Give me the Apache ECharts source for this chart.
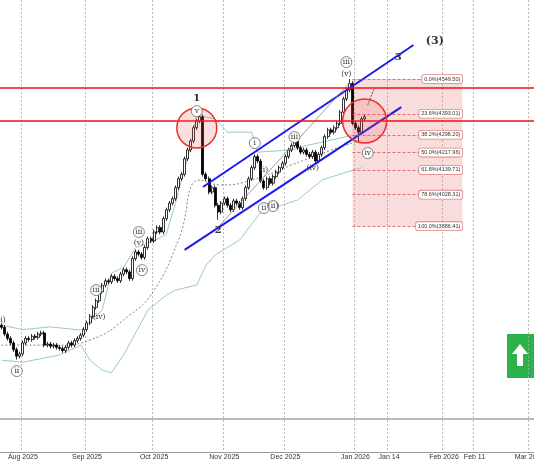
<!DOCTYPE html>
<html>
<head>
<meta charset="UTF-8">
<script src="https://cdn.jsdelivr.net/npm/echarts@6/dist/echarts.min.js"></script>
<style>html,body{margin:0;background:#fff;overflow:hidden}#main{width:534px;height:462px}</style>
</head>
<body>
<div id="main"></div>
<script>
// closes of each daily bar, starting Jul 23 2025
var closes = [3430,3400,3380,3360,3330,3300,3310,3360,3380,3375,3390,3385,3400,3405,3350,3355,3345,3350,3340,3335,
  3325,3340,3360,3350,3370,3380,3395,3420,3450,3480,3520,3550,3590,3620,3640,3635,3660,3650,3640,3670,
  3690,3680,3650,3740,3770,3760,3745,3790,3830,3820,3860,3880,3860,3920,3960,3990,4010,4060,4100,4120,
  4190,4230,4270,4330,4360,4380,4120,4100,4040,4060,3980,3950,3990,4010,3980,3960,4000,3990,3970,4010,
  4060,4100,4150,4200,4180,4090,4060,4100,4080,4110,4130,4150,4170,4200,4230,4250,4270,4240,4220,4230,
  4210,4200,4220,4180,4210,4240,4290,4320,4310,4330,4350,4400,4460,4500,4530,4350,4330,4310,4370,4380];
var specialHighs = {65: 4420, 114: 4550};
var specialLows = {5: 3285, 71: 3915, 117: 4270};

var upperBand = [[0,3440],[7,3420],[16,3432],[26,3418],[33,3508],[36,3675],[40,3700],[44,3790],[50,3820],[54,3850],[57,3990],[62,4250],[64,4387],[70,4370],[74,4310],[82,4310],[84,4220],[95,4230],[100,4250],[105,4265],[113,4290],[118,4300]];
var lowerBand = [[0,3282],[7,3273],[19,3305],[26,3350],[29,3282],[33,3237],[36,3225],[40,3305],[48,3508],[54,3576],[57,3598],[64,3621],[67,3710],[70,3756],[78,3824],[85,3950],[97,4004],[105,4094],[113,4130],[118,4150]];
var middleBand = [[0,3350],[19,3350],[29,3373],[42,3485],[50,3598],[58,3824],[65,4094],[72,4072],[82,4094],[95,4162],[108,4229],[118,4275]];

var fibLevels = ['0.0','23.6','38.2','50.0','61.8','78.6','100.0'];
var fibPrices = [4549.50,4393.01,4298.20,4217.96,4139.71,4028.31,3886.41];
var resistance = [4509, 4360];

var waveLabels = [
  [64.4,4464,'1',0],[71,3869,'2',0],[129.7,4649,'3',0],[141.5,4721,'(3)',2],
  [64.4,4405,'v',1],[82.8,4261,'i',1],[86,4139,'(i)',0],[85.7,3968,'ii',1],[89,3977,'(ii)',1],
  [95.6,4288,'iii',1],[101.5,4148,'(iv)',0],[113.3,4626,'iii',1],[113.3,4572,'(v)',0],[119.5,4216,'iv',1],
  [0.2,3463,'(i)',0],[5,3233,'ii',1],[30.7,3598,'iii',1],[31.6,3476,'(iv)',0],
  [44.8,3860,'iii',1],[44.8,3810,'(v)',0],[46,3688,'iv',1]
];

// categories: weekdays up to Jan 6 2026, then every calendar day
var dates = [];
var d = new Date(Date.UTC(2025,6,23));
while (dates.length < 175) {
  var wd = d.getUTCDay();
  var future = d >= new Date(Date.UTC(2026,0,7));
  if (future || (wd != 0 && wd != 6)) dates.push(d.toISOString().slice(0,10));
  d = new Date(d.getTime() + 86400000);
}
var labelDates = {'2025-08-01':'Aug 2025','2025-09-01':'Sep 2025','2025-10-01':'Oct 2025','2025-11-03':'Nov 2025',
  '2025-12-01':'Dec 2025','2026-01-01':'Jan 2026','2026-01-14':'Jan 14','2026-02-01':'Feb 2026','2026-02-11':'Feb 11','2026-03-01':'Mar 2026'};

var candles = closes.map(function (c, i) {
  var o = i == 0 ? c + 10 : closes[i - 1];
  var h = specialHighs[i] || Math.max(o, c) + 10;
  var l = specialLows[i] || Math.min(o, c) - 10;
  return [o, c, l, h];
});

var myChart = echarts.init(document.getElementById('main'));
var fibLines = fibPrices.map(function (p, k) {
  return [{coord: [115, p], label: {show: true, position: 'insideEndTop', formatter: fibLevels[k] + '%(' + p.toFixed(2) + ')'}}, {coord: [151, p]}];
});

var option = {
  animation: false,
  grid: {left: 0, right: 0, top: 0, bottom: 10, outerBoundsMode: 'none', containLabel: false},
  xAxis: {
    type: 'category', data: dates, boundaryGap: true,
    axisLine: {lineStyle: {color: '#999'}}, axisTick: {show: false},
    axisLabel: {interval: function (i, v) { return !!labelDates[v]; }, formatter: function (v) { return labelDates[v] || ''; },
      fontSize: 7, color: '#333', margin: 2, fontFamily: 'Liberation Sans', hideOverlap: false},
    splitLine: {show: true, interval: function (i, v) { return !!labelDates[v]; }, lineStyle: {color: '#aaa', type: [2, 2], width: 0.8}}
  },
  yAxis: {type: 'value', min: 2868, max: 4906, show: false, splitLine: {show: false}},
  graphic: [
    {type: 'line', shape: {x1: 0, y1: 419, x2: 534, y2: 419}, style: {stroke: '#777', lineWidth: 1}},
    {type: 'rect', shape: {x: 507, y: 334, width: 27, height: 44}, style: {fill: '#2db14b'}},
    {type: 'polygon', shape: {points: [[520, 344], [528, 354], [523, 354], [523, 366], [517, 366], [517, 354], [512, 354]]}, style: {fill: '#fff'}}
  ],
  series: [
    {type: 'custom', silent: true, z: 1, data: [[115, 4549.5, 151, 3886.41]],
      renderItem: function (p, api) {
        var a = api.coord([api.value(0), api.value(1)]), b = api.coord([api.value(2), api.value(3)]);
        return {type: 'rect', shape: {x: a[0], y: a[1], width: b[0] - a[0], height: b[1] - a[1]}, style: {fill: 'rgba(230,120,120,0.25)'}};
      },
      markLine: {symbol: 'none', silent: true, lineStyle: {color: '#e05050', type: [3, 2], width: 0.8},
        label: {fontSize: 5.5, color: '#333', backgroundColor: '#fff', borderColor: '#e08080', borderWidth: 0.8, borderRadius: 2, padding: [1, 2], distance: [0, -4]},
        data: fibLines}
    },
    {type: 'line', data: upperBand, showSymbol: false, lineStyle: {color: '#9cc8c8', width: 1}, z: 2},
    {type: 'line', data: lowerBand, showSymbol: false, lineStyle: {color: '#9cc8c8', width: 1}, z: 2},
    {type: 'line', data: middleBand, showSymbol: false, smooth: true, lineStyle: {color: '#666', width: 0.8, type: [2, 2]}, z: 2},
    {type: 'candlestick', data: candles, barWidth: 2.5, z: 3,
      itemStyle: {color: '#fff', color0: '#000', borderColor: '#000', borderColor0: '#000', borderWidth: 0.8}},
    {type: 'line', data: [[66, 4063], [134.6, 4703]], showSymbol: false, lineStyle: {color: '#1a1aee', width: 2}, z: 4},
    {type: 'line', data: [[60.2, 3779], [130.7, 4423]], showSymbol: false, lineStyle: {color: '#1a1aee', width: 2}, z: 4},
    {type: 'line', data: [[71, 3882], [114, 4532]], showSymbol: false, lineStyle: {color: '#888', width: 0.8}, z: 4},
    {type: 'line', data: [[119.5, 4432], [122, 4504]], showSymbol: false, symbol: ['none', 'arrow'], lineStyle: {color: '#333', width: 0.8, type: [2, 1]}, z: 4},
    {type: 'line', data: [[-1, resistance[0]], [180, resistance[0]]], showSymbol: false, lineStyle: {color: '#ee1111', width: 1.5}, z: 5},
    {type: 'line', data: [[-1, resistance[1]], [180, resistance[1]]], showSymbol: false, lineStyle: {color: '#ee1111', width: 1.5}, z: 5},
    {type: 'custom', silent: true, z: 6, data: [[64.4, 4329, 20], [119.2, 4360, 22]],
      renderItem: function (p, api) {
        var c = api.coord([api.value(0), api.value(1)]);
        return {type: 'circle', shape: {cx: c[0], cy: c[1], r: api.value(2)}, style: {fill: 'rgba(240,90,90,0.2)', stroke: '#e83030', lineWidth: 1.5}};
      }},
    {type: 'custom', silent: true, z: 7, data: waveLabels,
      renderItem: function (p, api) {
        var c = api.coord([api.value(0), api.value(1)]);
        var kind = api.value(3), txt = waveLabels[p.dataIndex][2];
        var fs = kind == 2 ? 11 : (kind == 0 && txt.length == 1 ? 10 : 7.5);
        var children = [];
        if (kind == 1) children.push({type: 'circle', shape: {cx: c[0], cy: c[1], r: 5.5}, style: {fill: '#fff', stroke: '#666', lineWidth: 0.8}});
        children.push({type: 'text', style: {x: c[0], y: c[1], text: txt, align: 'center', verticalAlign: 'middle',
          fontSize: fs, fontFamily: 'DejaVu Serif', fill: '#333', fontWeight: kind == 2 || fs == 10 ? 'bold' : 'normal'}});
        return {type: 'group', children: children};
      }}
  ]
};
myChart.setOption(option);
</script>
</body>
</html>
